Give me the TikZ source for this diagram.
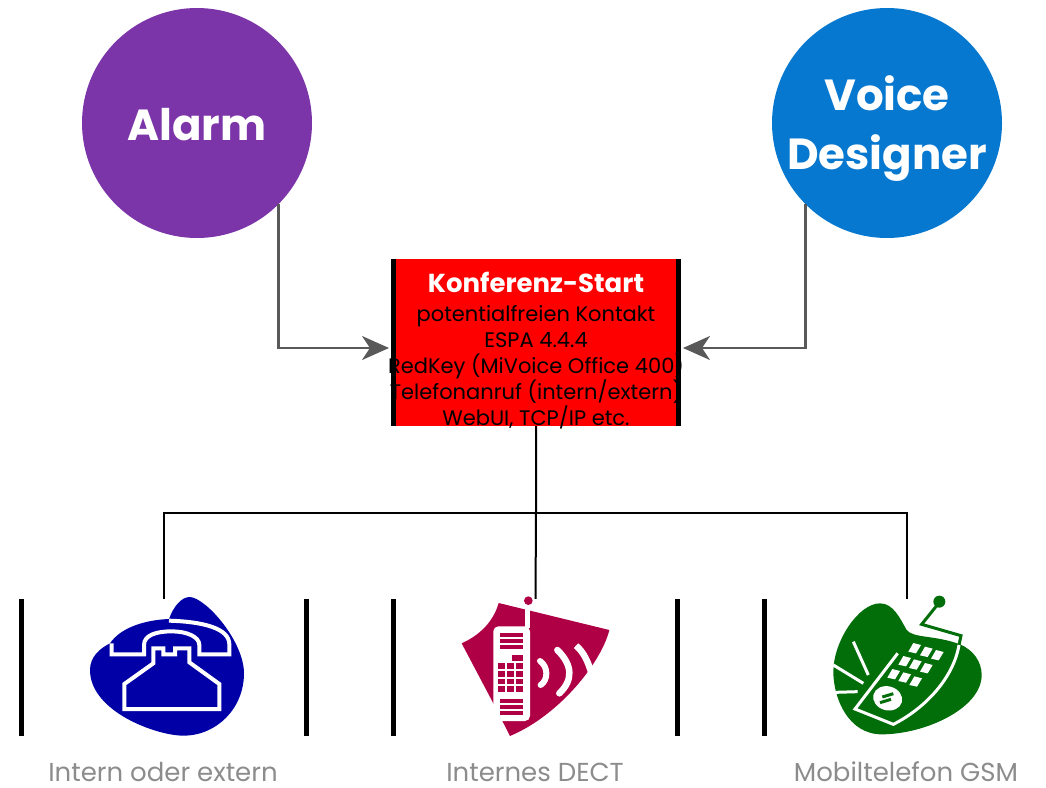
\documentclass[tikz,border=0pt]{standalone}
\usepackage{fontspec}
\setmainfont{Poppins}
\usetikzlibrary{arrows.meta}
\definecolor{alarmc}{HTML}{7B35A8}
\definecolor{voicec}{HTML}{0778CF}
\definecolor{telc}{HTML}{0000A6}
\definecolor{dectc}{HTML}{B00045}
\definecolor{gsmc}{HTML}{026E0A}
\definecolor{arrowc}{HTML}{595959}
\definecolor{labelc}{HTML}{8C8C8C}
\tikzset{
  bubble/.style={circle,minimum size=230pt,inner sep=0pt},
  bubbletext/.style={inner sep=0pt,text=white,align=center,font=\bfseries\fontsize{43.5}{59}\selectfont},
  feed/.style={draw=arrowc,line width=2.4pt,-{Stealth[length=27pt,width=24pt,inset=8pt]}},
  wire/.style={draw=black,line width=2pt},
  bar/.style={draw=black,line width=5pt},
  iconbox/.style={minimum width=284pt,minimum height=137pt,inner sep=0pt},
  iconcap/.style={text=labelc,font=\fontsize{26}{28}\selectfont,inner sep=0pt},
}
\begin{document}
\begin{tikzpicture}[x=1pt,y=-1pt]
\useasboundingbox (0,0) rectangle (1046,787);
% circles
\node[bubble,fill=alarmc] (alarm) at (197,123) {};
\node[bubble,fill=voicec] (voice) at (887,123) {};
\node[bubbletext] (alarmtext) at (197,125) {Alarm};
\node[bubbletext] (voicetext) at (887,129) {Voice\\Designer};
% centre box
\node[fill=red,minimum width=288pt,minimum height=167pt,inner sep=0pt] (start) at (536,342.5) {};
\draw[bar] ([xshift=2pt]start.north west) -- ([xshift=2pt]start.south west);
\draw[bar] ([xshift=-2pt]start.north east) -- ([xshift=-2pt]start.south east);
\node[align=center,inner sep=0pt,anchor=north,font=\fontsize{21}{26}\selectfont] (starttext) at (536,272)
  {{\color{white}\bfseries\fontsize{26}{28}\selectfont Konferenz-Start}\\[3pt]
   potentialfreien Kontakt\\ESPA 4.4.4\\RedKey (MiVoice Office 400)\\Telefonanruf (intern/extern)\\WebUI, TCP/IP etc.};
% icon frames
\node[iconbox] (iconA) at (164,667.5) {};
\node[iconbox] (iconB) at (535.5,667.5) {};
\node[iconbox] (iconC) at (907,667.5) {};
\draw[bar] (iconA.north west) -- (iconA.south west);
\draw[bar] (iconA.north east) -- (iconA.south east);
\draw[bar] (iconB.north west) -- (iconB.south west);
\draw[bar] (iconB.north east) -- (iconB.south east);
\draw[bar] (iconC.north west) -- (iconC.south west);
\node[iconcap] (capA) at (163,772) {Intern oder extern};
\node[iconcap] (capB) at (535,772) {Internes DECT};
\node[iconcap] (capC) at (906,772) {Mobiltelefon GSM};
% connectors
\coordinate (alarmin) at (389,348);
\coordinate (voicein) at (683,348);
\coordinate (bus) at (536,512.5);
\draw[feed] (alarm.-45) |- (alarmin);
\draw[feed] (voice.-135) |- (voicein);
\draw[wire] (start.south) -- (bus) -- (iconB.north);
\draw[wire] (iconA.north) |- (bus) -| (iconC.north);
% telephone
\begin{scope}[shift={(70,585)},scale=1/3]
\fill[telc] (297,102) .. controls (310,65) and (335,35) .. (360,36)
  .. controls (410,40) and (522,170) .. (522,265)
  .. controls (522,370) and (440,452) .. (340,452)
  .. controls (260,452) and (60,380) .. (60,255)
  .. controls (60,215) and (90,190) .. (120,175)
  .. controls (150,130) and (220,105) .. (297,102) -- cycle;
\draw[white,line width=4pt] (297,107) .. controls (400,110) and (478,130) .. (478,178)
  -- (478,208) -- (388,208) -- (388,180) .. controls (388,155) and (350,139) .. (305,139)
  .. controls (260,139) and (222,150) .. (222,180) -- (222,208) -- (125,208) -- (125,175);
\draw[white,line width=4pt] (250,190) -- (250,235) -- (163,297) -- (163,372) -- (448,372) -- (448,297)
  -- (358,232) -- (358,190) -- (315,190) -- (315,208) -- (280,208) -- (280,190) -- cycle;
\end{scope}
% DECT
\begin{scope}[shift={(450,585)},scale=1/3]
\fill[dectc] (146,54) -- (478,135) .. controls (455,230) and (330,390) .. (180,453)
  -- (130,355) -- (35,175) .. controls (90,150) and (130,110) .. (146,54) -- cycle;
\draw[white,line width=5pt] (233,62) -- (233,130);
\fill[white,rounded corners=5pt] (130,124) rectangle (240,408);
\foreach \y in {144,162,180,342,360,378}{\fill[dectc] (150,\y) rectangle (218,\y+11);}
\fill[dectc] (186,210) rectangle (218,227);
\foreach \y in {235,258,281,304}{\foreach \x in {144,171,198}{\fill[dectc] (\x,\y) rectangle (\x+21,\y+17);}}
\draw[white,line width=6pt,line cap=round] (270,228) .. controls (295,245) and (295,285) .. (272,300);
\draw[white,line width=6.5pt,line cap=round] (322,195) .. controls (368,240) and (370,285) .. (328,325);
\draw[white,line width=6.5pt] (378,182) .. controls (400,200) and (415,230) .. (425,268);
\fill[dectc] (235,47) circle [radius=13];
\end{scope}
% GSM
\begin{scope}[shift={(825,585)},scale=1/3]
\fill[gsmc] (245,135) .. controls (265,160) and (330,150) .. (405,178)
  .. controls (445,195) and (470,230) .. (470,270)
  .. controls (470,370) and (300,448) .. (170,448)
  .. controls (70,448) and (25,340) .. (25,260)
  .. controls (25,170) and (100,55) .. (165,55)
  .. controls (205,55) and (225,100) .. (245,135) -- cycle;
\fill[gsmc] (343,50) circle [radius=18];
\draw[gsmc,line width=3pt] (335,62) -- (290,118) -- (408,152) -- (402,180);
\draw[white,line width=3pt] (402,180) .. controls (385,280) and (300,370) .. (205,418) -- (90,372) -- (218,205);
\foreach \x/\y in {270/187,305/198,338/208,240/226,272/236,305/247,207/265,240/275,273/287}{
  \fill[white] (\x-20,\y+13) -- (\x-5,\y-13) -- (\x+18,\y-7) -- (\x+3,\y+18) -- cycle;}
\fill[white,rotate around={-15:(188,340)}] (188,340) ellipse [x radius=44,y radius=36];
\draw[gsmc,line width=3pt] (172,336) -- (205,326);
\draw[gsmc,line width=3pt] (165,353) -- (198,343);
\draw[white,line width=3pt] (85,170) -- (130,270);
\draw[white,line width=3pt] (25,240) -- (115,295);
\draw[white,line width=3pt] (32,322) -- (98,320);
\end{scope}
\end{tikzpicture}
\end{document}
